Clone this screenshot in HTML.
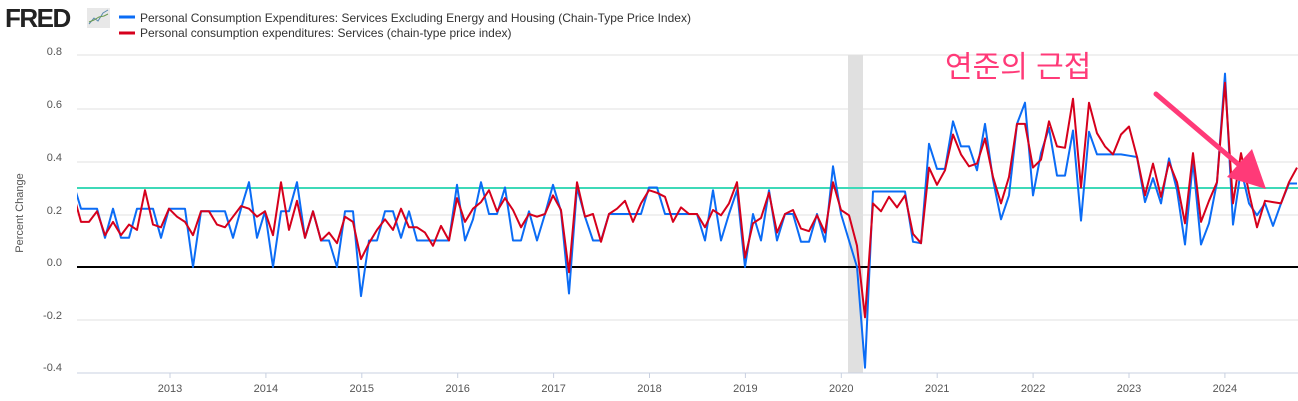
<!DOCTYPE html>
<html><head><meta charset="utf-8"><style>
html,body{margin:0;padding:0;background:#fff;width:1298px;height:401px;overflow:hidden}
svg{display:block}
text{font-family:"Liberation Sans","Noto Sans CJK KR",sans-serif}
</style></head><body>
<svg id="s" width="1298" height="401" viewBox="0 0 1298 401" xmlns="http://www.w3.org/2000/svg">
<text x="5" y="27" font-size="26" font-weight="bold" fill="#222" letter-spacing="-1.5">FRED</text>
<rect x="87" y="8" width="23" height="20" fill="#e8e8e8"/>
<polyline points="89,24 94,18 98,21 103,13 108,10" fill="none" stroke="#5a8ab0" stroke-width="1"/>
<polyline points="89,22 94,20 99,17 104,16 108,14" fill="none" stroke="#6a9a50" stroke-width="1"/>
<line x1="119" y1="17" x2="135" y2="17" stroke="#0b6cf5" stroke-width="3"/>
<line x1="119" y1="33" x2="135" y2="33" stroke="#d6001c" stroke-width="3"/>
<text x="140" y="22" font-size="12" fill="#333">Personal Consumption Expenditures: Services Excluding Energy and Housing (Chain-Type Price Index)</text>
<text x="140" y="37" font-size="12" fill="#333">Personal consumption expenditures: Services (chain-type price index)</text>
<g stroke="#e0e0e0" stroke-width="1">
<line x1="77" y1="55" x2="1298" y2="55"/><line x1="77" y1="109" x2="1298" y2="109"/>
<line x1="77" y1="162" x2="1298" y2="162"/><line x1="77" y1="215" x2="1298" y2="215"/>
<line x1="77" y1="320" x2="1298" y2="320"/>
</g>
<rect x="848" y="55" width="15" height="318" fill="#e0e0e0"/>
<line x1="77" y1="373" x2="1298" y2="373" stroke="#c8d0e0" stroke-width="1"/>
<g font-size="11" fill="#555" text-anchor="end">
<text x="62" y="55">0.8</text><text x="62" y="108">0.6</text><text x="62" y="161">0.4</text>
<text x="62" y="214">0.2</text><text x="62" y="266">0.0</text><text x="62" y="319">-0.2</text><text x="62" y="371">-0.4</text>
</g>
<text transform="translate(23,213) rotate(-90)" font-size="11" fill="#555" text-anchor="middle">Percent Change</text>
<g id="xt" font-size="11" fill="#555" text-anchor="middle"></g>
<line x1="77" y1="188" x2="1298" y2="188" stroke="#3dd9b8" stroke-width="2"/>
<line x1="77" y1="267" x2="1298" y2="267" stroke="#000" stroke-width="2"/>
<g clip-path="url(#c)"><polyline id="pb" fill="none" stroke="#0b6cf5" stroke-width="2" stroke-linejoin="round"/>
<polyline id="pr" fill="none" stroke="#d6001c" stroke-width="2" stroke-linejoin="round"/></g>
<defs><clipPath id="c"><rect x="77" y="40" width="1221" height="340"/></clipPath></defs>
<text x="945" y="77" font-size="30" fill="#ff3a78">연준의 근접</text>
<line x1="1156" y1="94" x2="1238" y2="164" stroke="#ff3a78" stroke-width="5" stroke-linecap="round"/>
<polygon points="1266,189 1227,177 1252,149" fill="#ff3a78"/>
</svg>
<script>
var B=[.32,.22,.22,.22,.11,.22,.11,.11,.22,.22,.22,.11,.22,.22,.22,0,.21,.21,.21,.21,.11,.22,.32,.11,.21,0,.21,.21,.32,.11,.21,.10,.10,0,.21,.21,-.11,.10,.10,.21,.21,.11,.21,.10,.10,.10,
.10,.10,.31,.10,.18,.32,.20,.20,.30,.10,.10,.21,.10,.20,.31,.21,-.10,.30,.19,.10,.10,.20,.20,.20,.20,.20,.30,.30,.20,.20,.20,.20,.20,.10,.29,.10,.20,.29,0,.20,.10,.29,.10,.20,.20,.095,.095,.20,.095,.38,.20,.10,0,-.38,
.285,.285,.285,.285,.285,.095,.09,.465,.37,.37,.55,.455,.455,.365,.54,.33,.18,.27,.54,.62,.27,.43,.525,.345,.345,.515,.175,.51,.425,.425,.425,.425,.42,.415,.245,.335,.24,.41,.29,.085,.40,.085,.165,.32,.73,.16,.37,.24,.195,.24,.155,.24,.315,.315];
var R=[.28,.17,.17,.21,.12,.17,.12,.16,.14,.29,.16,.15,.22,.19,.17,.12,.21,.21,.16,.15,.19,.23,.22,.19,.21,.12,.32,.14,.25,.11,.21,.10,.13,.09,.19,.17,.03,.09,.14,.18,.14,.22,.15,.15,.13,.08,
.155,.10,.26,.17,.22,.245,.29,.21,.26,.215,.15,.20,.19,.20,.27,.215,-.02,.32,.19,.20,.095,.20,.22,.25,.17,.24,.29,.28,.265,.17,.225,.20,.20,.15,.215,.195,.24,.32,.035,.165,.185,.28,.13,.20,.215,.145,.135,.195,.13,.32,.215,.195,.08,-.19,
.24,.21,.265,.225,.27,.125,.09,.375,.31,.365,.50,.425,.38,.39,.485,.34,.24,.34,.54,.54,.375,.405,.55,.455,.45,.635,.30,.62,.505,.455,.425,.50,.53,.415,.27,.39,.265,.395,.32,.165,.43,.17,.25,.32,.695,.24,.43,.28,.15,.25,.245,.24,.32,.375];
function pts(a){return a.map(function(v,i){return (73+8*i)+","+(267-265*v).toFixed(1)}).join(" ")}
document.getElementById("pb").setAttribute("points",pts(B));
document.getElementById("pr").setAttribute("points",pts(R));
var g=document.getElementById("xt"),h="";
for(var y=2013;y<=2024;y++){var x=170+(y-2013)*95.9;h+='<line x1="'+x+'" y1="373" x2="'+x+'" y2="378" stroke="#c8d0e0"/><text x="'+x+'" y="392">'+y+'</text>';}
g.innerHTML=h;
</script>
</body></html>
